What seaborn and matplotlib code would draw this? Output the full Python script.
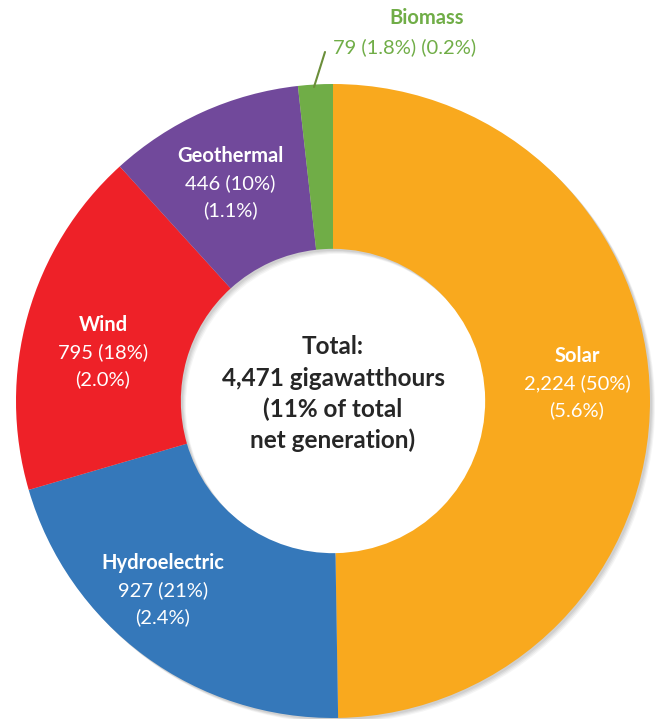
import matplotlib
matplotlib.use("Agg")
import matplotlib.pyplot as plt
import seaborn as sns

sns.set_theme(style="white")
plt.rcParams["font.family"] = ["Lato", "DejaVu Sans"]

sources = ["Solar", "Hydroelectric", "Wind", "Geothermal", "Biomass"]
gwh = [2224, 927, 795, 446, 79]
share_renew = ["50%", "21%", "18%", "10%", "1.8%"]
share_total = ["5.6%", "2.4%", "2.0%", "1.1%", "0.2%"]
colors = ["#F9A91E", "#3578BA", "#EE2128", "#71499B", "#70AD47"]
center_lines = ["Total:", "4,471 gigawatthours", "(11% of total", "net generation)"]

W, H = 655, 719
fig = plt.figure(figsize=(W / 100, H / 100), dpi=100)
ax = fig.add_axes([0, 0, 1, 1])

cx, cy = 333, H - 401
r_out = 317
ring = 0.52

# soft shadow behind the ring
for off, a in [(5, 0.08), (4, 0.10), (3, 0.12), (2, 0.14)]:
    ax.pie([1], center=(cx + off, cy - off), radius=r_out, colors=["#808080"],
           wedgeprops=dict(width=r_out * ring, linewidth=0, alpha=a))

ax.pie(gwh, center=(cx, cy), radius=r_out, colors=colors, startangle=90,
       counterclock=False, wedgeprops=dict(width=r_out * ring, linewidth=0))
ax.set_xlim(0, W)
ax.set_ylim(0, H)
ax.set_aspect("equal")
ax.axis("off")

# label positions in pixels (x, y from top)
label_pos = {"Solar": (577, 383), "Hydroelectric": (163, 590),
             "Wind": (103, 352), "Geothermal": (230, 183)}
fs = 14.5
for name, v, p1, p2 in zip(sources, gwh, share_renew, share_total):
    if name == "Biomass":
        continue
    x, y = label_pos[name]
    ax.text(x, H - y + 27, name, ha="center", va="center", color="white",
            fontsize=fs, fontweight="bold")
    ax.text(x, H - y, f"{v:,} ({p1})", ha="center", va="center",
            color="white", fontsize=fs)
    ax.text(x, H - y - 27, f"({p2})", ha="center", va="center",
            color="white", fontsize=fs)

# Biomass label outside with leader line
ax.plot([314, 325], [H - 87, H - 52], color="#6B8E3A", linewidth=1.5)
ax.text(427, H - 18, "Biomass", ha="center", va="center", color="#70AD47",
        fontsize=fs, fontweight="bold")
ax.text(405, H - 47, f"{gwh[4]} ({share_renew[4]}) ({share_total[4]})",
        ha="center", va="center", color="#70AD47", fontsize=fs)

for i, line in enumerate(center_lines):
    ax.text(333, H - (347 + i * 31), line, ha="center", va="center",
            color="#262626", fontsize=17.5, fontweight="bold")

fig.savefig("out.png", dpi=100, facecolor="white")
